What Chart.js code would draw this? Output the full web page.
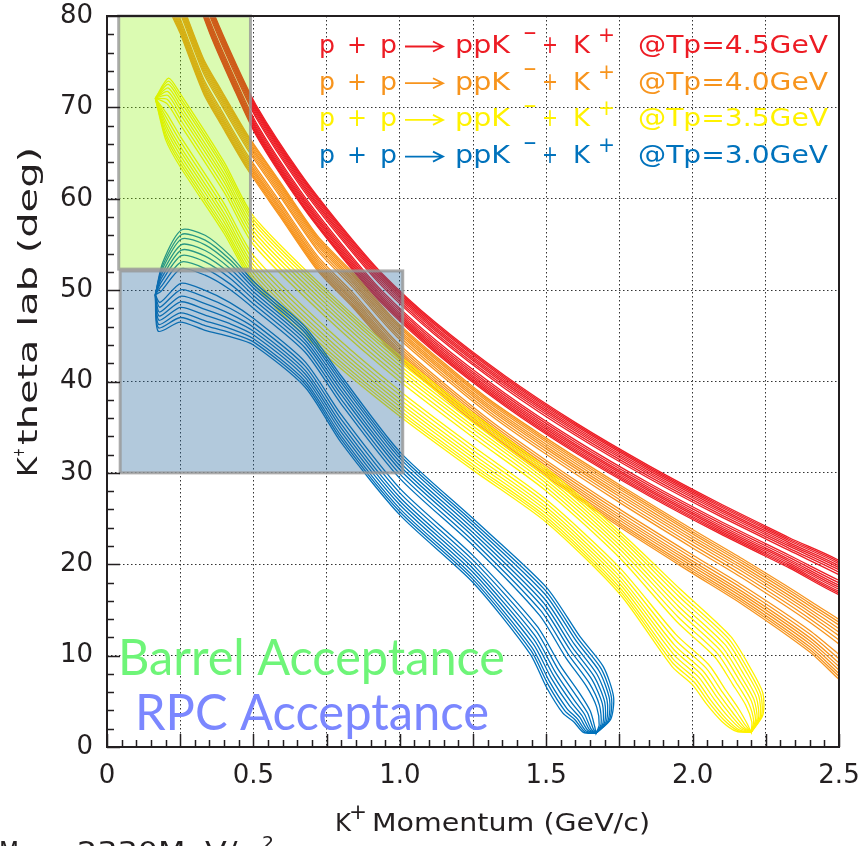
<!DOCTYPE html>
<html>
<head>
<meta charset="utf-8">
<title>K+ theta vs momentum</title>
<script src="https://cdn.jsdelivr.net/npm/chart.js@4.4.1/dist/chart.umd.min.js"></script>
<style>
  html, body { margin: 0; padding: 0; background: #fff; }
  canvas { display: block; }
</style>
</head>
<body>
<canvas id="kaonChart" width="867" height="846"></canvas>
<script>
// Axis ticks
const xTickLabels = ['0', '0.5', '1.0', '1.5', '2.0', '2.5'];
const yTickLabels = ['0', '10', '20', '30', '40', '50', '60', '70', '80'];

// Outer contour of each band: upper edge and lower edge, paired point by point [p, theta]
const tp45Upper = [[0.27, 89.0], [0.35, 81.5], [0.43, 75.5], [0.51, 70.2], [0.66, 62.8], [0.80, 57.0], [0.94, 51.8], [1.12, 46.5], [1.36, 40.6], [1.60, 35.5], [1.85, 30.8], [2.09, 26.7], [2.33, 22.9], [2.55, 19.4]];
const tp45Lower = [[0.27, 85.6], [0.35, 78.2], [0.43, 72.3], [0.51, 66.9], [0.66, 59.5], [0.80, 53.7], [0.94, 48.5], [1.12, 43.2], [1.36, 37.3], [1.60, 32.2], [1.85, 27.5], [2.09, 23.4], [2.33, 19.6], [2.55, 16.1]];

const tp40Upper = [[0.21, 84.9], [0.25, 81.9], [0.33, 75.3], [0.39, 71.9], [0.48, 67.0], [0.59, 61.9], [0.72, 55.9], [0.84, 51.9], [0.99, 46.5], [1.29, 38.4], [1.50, 33.8], [1.75, 28.7], [2.00, 23.8], [2.17, 20.6], [2.40, 16.0], [2.58, 11.7]];
const tp40Lower = [[0.21, 81.1], [0.25, 78.1], [0.33, 71.5], [0.39, 68.1], [0.48, 63.2], [0.59, 58.1], [0.72, 52.1], [0.84, 48.1], [0.99, 42.7], [1.29, 34.6], [1.50, 29.6], [1.75, 24.1], [2.00, 19.0], [2.17, 15.6], [2.40, 10.4], [2.58, 5.5]];

const tp35Upper = [[0.165, 71.0], [0.21, 73.2], [0.25, 71.5], [0.40, 64.0], [0.50, 58.1], [0.75, 50.0], [1.00, 42.8], [1.25, 36.5], [1.50, 30.5], [1.75, 23.6], [1.96, 17.2], [2.13, 12.1], [2.20, 8.5], [2.24, 5.9], [2.24, 3.5], [2.20, 1.6]];
const tp35Lower = [[0.165, 71.0], [0.20, 66.5], [0.25, 63.5], [0.40, 56.2], [0.50, 50.7], [0.75, 42.8], [1.00, 36.2], [1.25, 30.3], [1.50, 24.6], [1.75, 16.8], [1.93, 8.8], [2.00, 6.8], [2.05, 4.6], [2.10, 2.8], [2.15, 1.7], [2.20, 1.6]];

const tp30Upper = [[0.165, 49.5], [0.19, 53.0], [0.255, 56.6], [0.335, 56.0], [0.42, 53.8], [0.505, 50.8], [0.676, 46.0], [0.80, 40.6], [1.00, 32.3], [1.25, 25.0], [1.50, 17.5], [1.615, 12.1], [1.695, 8.8], [1.73, 5.5], [1.72, 3.0], [1.67, 1.5]];
const tp30Lower = [[0.165, 49.5], [0.175, 45.5], [0.25, 46.5], [0.335, 45.6], [0.42, 44.9], [0.50, 44.0], [0.676, 39.4], [0.80, 33.3], [1.00, 25.4], [1.25, 18.0], [1.445, 10.2], [1.50, 6.6], [1.557, 3.7], [1.593, 2.8], [1.627, 1.6], [1.67, 1.5]];

// Contour levels, as a fraction of the way in from the outer edge
const contourLevels = [0, 0.05, 0.10, 0.16, 0.22, 0.28, 0.35, 0.42];

// Acceptance regions [pMin, pMax, thetaMin, thetaMax]
const barrelBox = [0.04, 0.49, 52.3, 80];
const rpcBox = [0.045, 1.01, 30, 52.1];

const beamLabels = ['@Tp=4.5GeV', '@Tp=4.0GeV', '@Tp=3.5GeV', '@Tp=3.0GeV'];
const beamColors = ['#ed1c24', '#f7941d', '#fff200', '#0072bc'];

function contourLoops(upper, lower, color) {
  const mix = (a, b, f) => ({ x: a[0] + (b[0] - a[0]) * f, y: a[1] + (b[1] - a[1]) * f });
  return contourLevels.map(t => {
    const front = upper.map((u, i) => mix(u, lower[i], t));
    const back = upper.map((u, i) => mix(u, lower[i], 1 - t)).reverse();
    return {
      data: front.concat(back, [front[0]]),
      showLine: true,
      borderColor: color,
      borderWidth: 1.3,
      pointRadius: 0,
      pointHoverRadius: 0,
      tension: 0.25,
      fill: false
    };
  });
}

const datasets = [].concat(
  contourLoops(tp30Upper, tp30Lower, beamColors[3]),
  contourLoops(tp35Upper, tp35Lower, beamColors[2]),
  contourLoops(tp40Upper, tp40Lower, beamColors[1]),
  contourLoops(tp45Upper, tp45Lower, beamColors[0])
);

const near = (v, step) => Math.abs(v / step - Math.round(v / step)) < 1e-6;

// squeeze or stretch a string so it spans x0..x1
function fitText(ctx, str, x0, x1, y) {
  const w = ctx.measureText(str).width;
  ctx.save();
  ctx.translate(x0, y);
  ctx.scale((x1 - x0) / w, 1);
  ctx.fillText(str, 0, 0);
  ctx.restore();
}

function drawBox(chart, box, fill) {
  const { ctx, scales: { x, y } } = chart;
  const l = x.getPixelForValue(box[0]), r = x.getPixelForValue(box[1]);
  const t = y.getPixelForValue(box[3]), b = y.getPixelForValue(box[2]);
  ctx.save();
  ctx.fillStyle = fill;
  ctx.fillRect(l, t, r - l, b - t);
  ctx.strokeStyle = 'rgba(150,150,150,0.8)';
  ctx.lineWidth = 3;
  ctx.strokeRect(l, t, r - l, b - t);
  ctx.restore();
}

const overlayPlugin = {
  id: 'overlay',
  afterDatasetsDraw(chart) {
    drawBox(chart, barrelBox, 'rgba(136,241,0,0.3)');
    drawBox(chart, rpcBox, 'rgba(35,100,155,0.35)');
  },
  afterDraw(chart) {
    const { ctx, chartArea: a, scales: { x, y } } = chart;
    ctx.save();

    // frame and inward ticks
    ctx.strokeStyle = '#231f20';
    ctx.lineWidth = 2;
    ctx.strokeRect(a.left, a.top, a.right - a.left, a.bottom - a.top);
    ctx.lineWidth = 1.5;
    ctx.beginPath();
    x.ticks.forEach(t => {
      const px = Math.round(x.getPixelForValue(t.value)) + 0.5;
      const len = near(t.value, 0.25) ? 13 : 7;
      ctx.moveTo(px, a.bottom);
      ctx.lineTo(px, a.bottom - len);
    });
    y.ticks.forEach(t => {
      const py = Math.round(y.getPixelForValue(t.value)) + 0.5;
      const len = near(t.value, 10) ? 13 : 7;
      ctx.moveTo(a.left, py);
      ctx.lineTo(a.left + len, py);
    });
    ctx.stroke();

    // reaction labels
    ctx.textBaseline = 'alphabetic';
    beamLabels.forEach((label, i) => {
      const b = 53 + i * 36.7;
      ctx.fillStyle = beamColors[i];
      ctx.strokeStyle = beamColors[i];
      ctx.font = '25px "DejaVu Sans"';
      fitText(ctx, 'p', 319, 335, b);
      fitText(ctx, '+', 347, 367, b);
      fitText(ctx, 'p', 380, 397, b);
      fitText(ctx, 'ppK', 455, 510, b);
      fitText(ctx, '+', 542, 558, b);
      fitText(ctx, 'K', 573, 590, b);
      fitText(ctx, label, 638, 828, b);
      ctx.font = '22px "DejaVu Sans"';
      fitText(ctx, '\u2212', 523, 537, b - 13.5);
      fitText(ctx, '+', 598, 615, b - 11);
      // arrow
      const ay = b - 6.5;
      ctx.lineWidth = 1.8;
      ctx.beginPath();
      ctx.moveTo(405, ay);
      ctx.lineTo(443, ay);
      ctx.moveTo(433, ay - 5);
      ctx.lineTo(443, ay);
      ctx.lineTo(433, ay + 5);
      ctx.stroke();
    });

    // acceptance captions
    ctx.font = '50px Lato';
    ctx.fillStyle = '#6ef578';
    fitText(ctx, 'Barrel Acceptance', 118, 505, 675);
    ctx.fillStyle = '#7b87ff';
    fitText(ctx, 'RPC Acceptance', 135, 489, 730);

    // axis titles
    ctx.fillStyle = '#231f20';
    ctx.font = '25px "DejaVu Sans"';
    fitText(ctx, 'K', 335, 351, 831);
    fitText(ctx, 'Momentum (GeV/c)', 372, 650, 831);
    ctx.font = '22px "DejaVu Sans"';
    fitText(ctx, '+', 349, 367, 819);

    ctx.save();
    ctx.translate(37, 477);
    ctx.rotate(-Math.PI / 2);
    ctx.font = '26px "DejaVu Sans"';
    fitText(ctx, 'K', 0, 20, 0);
    fitText(ctx, 'theta lab (deg)', 32, 330, 0);
    ctx.font = '16px "DejaVu Sans"';
    fitText(ctx, '+', 20, 29, -13.5);
    ctx.restore();

    // mass note along the bottom edge
    ctx.font = '26px "DejaVu Sans"';
    fitText(ctx, 'M', -1, 19, 861);
    fitText(ctx, '=', 32, 58, 861);
    fitText(ctx, '2330MeV/c', 77, 255, 861);
    ctx.font = '18px "DejaVu Sans"';
    fitText(ctx, '2', 262, 274, 849);

    ctx.restore();
  }
};

Chart.defaults.font.family = '"DejaVu Sans"';

new Chart(document.getElementById('kaonChart'), {
  type: 'scatter',
  data: { datasets },
  options: {
    responsive: false,
    devicePixelRatio: 1,
    animation: false,
    events: [],
    layout: { padding: { top: 16, right: 28, left: 0, bottom: 0 } },
    plugins: { legend: { display: false }, tooltip: { enabled: false } },
    scales: {
      x: {
        type: 'linear',
        min: 0,
        max: 2.5,
        afterFit: s => { s.height = 99; s.paddingLeft = 0; s.paddingRight = 0; },
        grid: {
          drawTicks: false,
          lineWidth: 1,
          color: c => (c.tick && near(c.tick.value, 0.25) && c.tick.value > 0 && c.tick.value < 2.5) ? '#333' : 'rgba(0,0,0,0)'
        },
        border: { display: false, dash: [1.5, 2.5] },
        ticks: {
          stepSize: 0.05,
          autoSkip: false,
          maxRotation: 0,
          padding: 14,
          color: '#231f20',
          font: { size: 26 },
          callback: v => near(v, 0.5) ? xTickLabels[Math.round(v / 0.5)] : ''
        }
      },
      y: {
        type: 'linear',
        min: 0,
        max: 80,
        afterFit: s => { s.width = 107; s.paddingTop = 0; s.paddingBottom = 0; },
        grid: {
          drawTicks: false,
          lineWidth: 1,
          color: c => (c.tick && near(c.tick.value, 10) && c.tick.value > 0 && c.tick.value < 80) ? '#333' : 'rgba(0,0,0,0)'
        },
        border: { display: false, dash: [1.5, 2.5] },
        ticks: {
          stepSize: 2,
          autoSkip: false,
          padding: 14,
          color: '#231f20',
          font: { size: 26 },
          callback: v => near(v, 10) ? yTickLabels[Math.round(v / 10)] : ''
        }
      }
    }
  },
  plugins: [overlayPlugin]
});
</script>
</body>
</html>
